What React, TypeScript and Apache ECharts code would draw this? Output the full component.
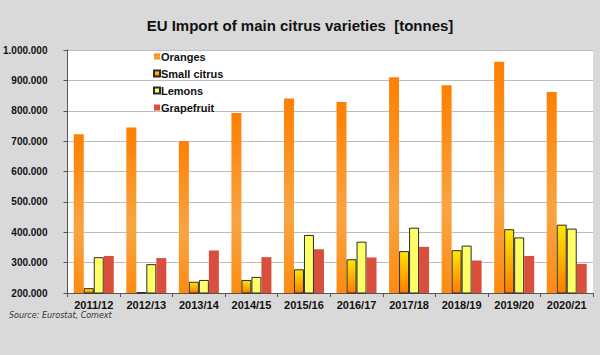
import React, { useEffect, useRef } from "react";
import * as echarts from "echarts";

const categories = ["2011/12", "2012/13", "2013/14", "2014/15", "2015/16", "2016/17", "2017/18", "2018/19", "2019/20", "2020/21"];
const oranges = [723000, 745000, 700000, 793000, 840000, 829000, 910000, 884000, 961000, 862000];
const smallCitrus = [216000, 203000, 237000, 243000, 278000, 311000, 338000, 341000, 410000, 425000];
const lemons = [318000, 295000, 243000, 253000, 391000, 369000, 415000, 356000, 383000, 412000];
const grapefruit = [322000, 315000, 340000, 318000, 344000, 317000, 352000, 307000, 322000, 296000];
const yTicks = { min: 200000, max: 1000000, interval: 100000 };

const FONT = "'Liberation Sans', Arial, sans-serif";

function fmt(v: number): string {
  return String(Math.round(v)).replace(/\B(?=(\d{3})+(?!\d))/g, ".");
}

export default function App() {
  const ref = useRef<HTMLDivElement>(null);
  useEffect(() => {
    if (!ref.current) return;
    const chart = echarts.init(ref.current, undefined, { renderer: "svg" });
    const orangeFill = new echarts.graphic.LinearGradient(0, 0, 0, 1, [
      { offset: 0, color: "#FF7F00" },
      { offset: 0.6, color: "#F8A545" },
      { offset: 1, color: "#FF8A10" },
    ]);
    const smallFill = new echarts.graphic.LinearGradient(0, 0, 0, 1, [
      { offset: 0, color: "#FFE800" },
      { offset: 1, color: "#FF7A00" },
    ]);
    chart.setOption({
      animation: false,
      backgroundColor: "#D9D9D9",
      title: {
        text: "EU Import of main citrus varieties  [tonnes]",
        left: "center",
        top: 13,
        textStyle: { fontFamily: FONT, fontSize: 15, fontWeight: "bold", color: "#111" },
      },
      legend: {
        orient: "vertical",
        left: 148,
        top: 46,
        itemWidth: 6,
        itemHeight: 6,
        itemGap: 6,
        icon: "rect",
        textStyle: { fontFamily: FONT, fontSize: 11, fontWeight: "bold", color: "#111", padding: [0, 0, 0, -4] },
        data: ["Oranges", "Small citrus", "Lemons", "Grapefruit"],
      },
      grid: {
        left: 67,
        right: 7,
        top: 50,
        bottom: 62,
        show: true,
        backgroundColor: "#FFFFFF",
        borderWidth: 0,
      },
      xAxis: {
        type: "category",
        data: categories,
        axisLine: { lineStyle: { color: "#555", width: 1 } },
        axisTick: { show: true, length: 4, lineStyle: { color: "#555" } },
        axisLabel: { fontFamily: FONT, fontSize: 11, fontWeight: "bold", color: "#111", margin: 6 },
      },
      yAxis: {
        type: "value",
        min: yTicks.min,
        max: yTicks.max,
        interval: yTicks.interval,
        axisLine: { show: true, lineStyle: { color: "#555", width: 1 } },
        axisTick: { show: true, length: 4, lineStyle: { color: "#555" } },
        splitLine: { lineStyle: { color: "#BDBDBD", width: 1 } },
        axisLabel: { fontFamily: FONT, fontSize: 10, fontWeight: "bold", color: "#111", margin: 20, formatter: (v: number) => fmt(v) },
      },
      series: [
        { name: "Oranges", type: "bar", data: oranges, barWidth: 10, barGap: "0%", itemStyle: { color: orangeFill } },
        { name: "Small citrus", type: "bar", data: smallCitrus, barWidth: 10, barGap: "0%", itemStyle: { color: smallFill, borderColor: "#2A2A2A", borderWidth: 1 } },
        { name: "Lemons", type: "bar", data: lemons, barWidth: 10, barGap: "0%", itemStyle: { color: "#FFFF66", borderColor: "#2A2A2A", borderWidth: 1 } },
        { name: "Grapefruit", type: "bar", data: grapefruit, barWidth: 10, barGap: "0%", itemStyle: { color: "#D94F3D" } },
      ],
      graphic: [
        {
          type: "text",
          left: 9,
          top: 311,
          style: { text: "Source: Eurostat, Comext", fontFamily: "'DejaVu Sans', Verdana, sans-serif", fontStyle: "italic", fontSize: 8, fill: "#333" },
        },
      ],
    });
    return () => chart.dispose();
  }, []);
  return <div ref={ref} style={{ width: 600, height: 355, position: "fixed", left: 0, top: 0 }} />;
}
